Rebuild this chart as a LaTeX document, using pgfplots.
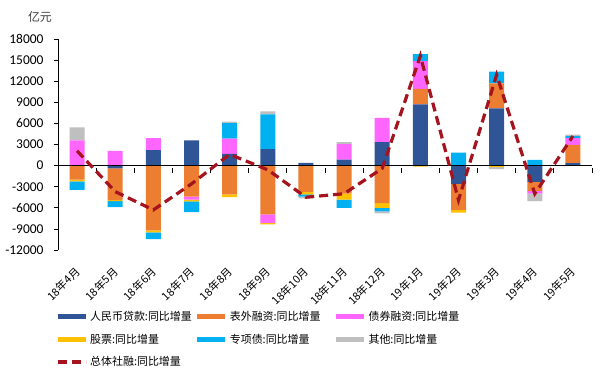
\documentclass[border=0pt]{standalone}
\usepackage{pgfplots}
\pgfplotsset{compat=1.18}
\usepackage{pgfplotstable}
\usepackage{fontspec}
\setmainfont{Carlito}
\newfontfamily\cjk{Noto Sans CJK SC}

\definecolor{cLoan}{HTML}{2F5597}
\definecolor{cOff}{HTML}{ED7D31}
\definecolor{cBond}{HTML}{FF66FF}
\definecolor{cStock}{HTML}{FFC000}
\definecolor{cSpec}{HTML}{00B0F0}
\definecolor{cOther}{HTML}{BFBFBF}
\definecolor{cTotal}{RGB}{165,20,30}

\pgfplotstableread{
idx loan off bond stock special other total
0 0 -2000 3600 -250 -1200 1850 2100
1 -400 -4500 2100 -150 -850 0 -3700
2 2200 -9200 1700 -300 -950 0 -6300
3 3600 -4400 -450 -250 -1500 0 -2600
4 1650 -4100 2200 -400 2200 200 1600
5 2350 -6950 -1200 -200 4950 400 -600
6 400 -3750 0 -350 -300 -250 -4500
7 850 -4000 2200 -850 -1150 300 -4000
8 3350 -5350 3450 -650 -500 -300 -400
9 8700 2200 3950 -150 1000 0 15600
10 -2600 -3700 0 -400 1850 0 -4900
11 8150 3550 0 -200 1650 -300 12900
12 -2300 -1300 -400 0 800 -1050 -4000
13 350 2600 950 0 300 200 4200
}\data

\pgfplotsset{base/.style={scale only axis, width=534bp, height=211bp,
  xmin=-0.5, xmax=13.5, ymin=-12000, ymax=18000, at={(0,0)}, anchor=south west}}

\begin{document}
\begin{tikzpicture}
\useasboundingbox (-58bp,-129bp) rectangle (542bp,250bp);
% positive parts
\begin{axis}[base, hide axis, ybar stacked, bar width=15bp]
\addplot[fill=cLoan, draw=none] table[x=idx, y expr={max(\thisrow{loan},0)}] {\data};
\addplot[fill=cOff, draw=none] table[x=idx, y expr={max(\thisrow{off},0)}] {\data};
\addplot[fill=cBond, draw=none] table[x=idx, y expr={max(\thisrow{bond},0)}] {\data};
\addplot[fill=cStock, draw=none] table[x=idx, y expr={max(\thisrow{stock},0)}] {\data};
\addplot[fill=cSpec, draw=none] table[x=idx, y expr={max(\thisrow{special},0)}] {\data};
\addplot[fill=cOther, draw=none] table[x=idx, y expr={max(\thisrow{other},0)}] {\data};
\end{axis}
% negative parts
\begin{axis}[base, hide axis, ybar stacked, bar width=15bp]
\addplot[fill=cLoan, draw=none] table[x=idx, y expr={min(\thisrow{loan},0)}] {\data};
\addplot[fill=cOff, draw=none] table[x=idx, y expr={min(\thisrow{off},0)}] {\data};
\addplot[fill=cBond, draw=none] table[x=idx, y expr={min(\thisrow{bond},0)}] {\data};
\addplot[fill=cStock, draw=none] table[x=idx, y expr={min(\thisrow{stock},0)}] {\data};
\addplot[fill=cSpec, draw=none] table[x=idx, y expr={min(\thisrow{special},0)}] {\data};
\addplot[fill=cOther, draw=none] table[x=idx, y expr={min(\thisrow{other},0)}] {\data};
\end{axis}
% axes, line, legend
\begin{axis}[base,
  axis y line*=left, axis x line*=middle,
  axis line style={black, line width=0.8bp},
  hide obscured x ticks=false, hide obscured y ticks=false,
  ytick={-12000,-9000,...,18000},
  scaled y ticks=false,
  /pgf/number format/assume math mode=true,
  /pgf/number format/1000 sep={},
  yticklabel style={font=\fontsize{13.5}{15}\selectfont, xshift=-7bp},
  xtick={0,...,13},
  xticklabels={18年4月,18年5月,18年6月,18年7月,18年8月,18年9月,18年10月,18年11月,18年12月,19年1月,19年2月,19年3月,19年4月,19年5月},
  xticklabel style={rotate=45, anchor=north east, font=\cjk\fontsize{11}{13}\selectfont, xshift=-4bp},
  xticklabel shift=89bp,
  major x tick style={draw=none},
  minor xtick={-0.5,0.5,...,13.5},
  minor x tick style={black, line width=0.8bp, yshift=-2.5bp},
  minor tick length=5bp,
  major tick length=4bp,
  tick align=outside,
  y tick style={black, line width=0.8bp},
  legend columns=3,
  legend cell align=left,
  legend image code/.code={\draw[#1] (0bp,0bp) -- (28bp,0bp);},
  legend style={at={(0,-0.27)}, anchor=north west, xshift=-6bp, draw=none, fill=none,
    font=\cjk\fontsize{11}{13}\selectfont, row sep=8bp,
    /tikz/every even column/.append style={column sep=1bp}},
]
\addlegendimage{line width=5bp, color=cLoan}
\addlegendimage{line width=5bp, color=cOff}
\addlegendimage{line width=5bp, color=cBond}
\addlegendimage{line width=5bp, color=cStock}
\addlegendimage{line width=5bp, color=cSpec}
\addlegendimage{line width=5bp, color=cOther}
\addplot[cTotal, line width=3.2bp, dash pattern=on 9bp off 5bp] table[x=idx, y=total] {\data};
\legend{人民币贷款:同比增量,表外融资:同比增量\hspace*{10bp},债券融资:同比增量,股票:同比增量,专项债:同比增量,其他:同比增量,总体社融:同比增量}
\end{axis}
\node[font=\cjk\fontsize{12}{14}\selectfont, text=black!75] at (-18bp,233bp) {亿元};
\end{tikzpicture}
\end{document}
